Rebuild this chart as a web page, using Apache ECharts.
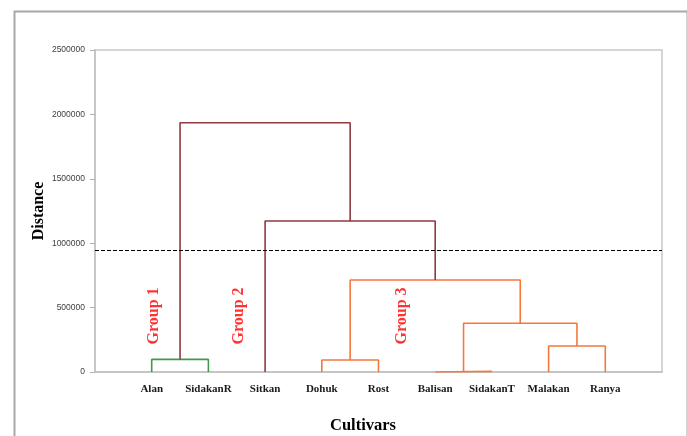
<!DOCTYPE html>
<html>
<head>
<meta charset="utf-8">
<script src="https://cdn.jsdelivr.net/npm/echarts@6/dist/echarts.min.js"></script>
<style>html,body{margin:0;padding:0;background:#fff}#c{width:687px;height:436px}</style>
</head>
<body>
<div id="c"></div>
<script>
// Leaves (cultivars) in dendrogram order
var categories = ['Alan', 'SidakanR', 'Sitkan', 'Dohuk', 'Rost', 'Balisan', 'SidakanT', 'Malakan', 'Ranya'];
// Merges: left child, right child (leaf name or merge id "m#"), linkage distance, cluster group
var mergeLeft   = ['Balisan', 'Alan',     'Dohuk', 'Malakan', 'm0',     'm2',     'Sitkan',  'm1'];
var mergeRight  = ['SidakanT', 'SidakanR', 'Rost', 'Ranya',   'm3',     'm4',     'm5',      'm6'];
var mergeHeight = [5000,       98000,      93000,  202000,    378000,   714000,   1172000,   1935000];
var mergeGroup  = ['g3',       'g1',       'g3',   'g3',      'g3',     'g3',     'top',     'top'];
// Y-axis ticks
var yTicks = [0, 500000, 1000000, 1500000, 2000000, 2500000];
// Cut-off line
var cutOff = 945000;
// Group annotations
var groupNames = ['Group 1', 'Group 2', 'Group 3'];
var groupX = [1.03, 2.53, 5.41];
var groupY = [435000, 435000, 435000];

var groupColor = { g1: '#3f9a4a', g3: '#f5783a', top: '#8e3a3f' };

// Build node positions from the merge table
var nodeX = {}, nodeH = {};
categories.forEach(function (c, i) { nodeX[c] = i + 1; nodeH[c] = 0; });
var series = [];
mergeLeft.forEach(function (l, i) {
  var r = mergeRight[i], h = mergeHeight[i], id = 'm' + i;
  nodeX[id] = (nodeX[l] + nodeX[r]) / 2;
  nodeH[id] = h;
  series.push({
    type: 'line', silent: true, symbol: 'none', animation: false,
    lineStyle: { color: groupColor[mergeGroup[i]], width: 1.6 },
    data: [[nodeX[l], nodeH[l]], [nodeX[l], h], [nodeX[r], h], [nodeX[r], nodeH[r]]],
    z: 3
  });
});
series.push({
  type: 'scatter', silent: true, symbolSize: 0, animation: false,
  data: groupNames.map(function (n, i) { return { value: [groupX[i], groupY[i]], name: n }; }),
  label: {
    show: true, position: 'inside', rotate: 90, formatter: '{b}',
    color: '#ff0000', fontFamily: 'Liberation Serif', fontWeight: 'bold', fontSize: 16
  },
  markLine: {
    silent: true, symbol: 'none', animation: false,
    label: { show: false },
    lineStyle: { color: '#000', type: [4, 2], width: 1.2 },
    data: [{ yAxis: cutOff }]
  }
});

var chart = echarts.init(document.getElementById('c'), null, { renderer: 'canvas' });
chart.setOption({
  backgroundColor: '#fff',
  animation: false,
  grid: { left: 95, right: 25, top: 50, bottom: 64, show: true, borderColor: '#c8c8c8', borderWidth: 1.5 },
  xAxis: {
    type: 'value', min: 0, max: categories.length + 1, interval: 1,
    axisLine: { show: true, lineStyle: { color: '#c0c0c0', width: 1.5 } },
    axisTick: { show: false }, splitLine: { show: false },
    axisLabel: {
      margin: 12, color: '#1a1a1a', fontFamily: 'Liberation Serif', fontWeight: 'bold', fontSize: 11,
      formatter: function (v) { return categories[v - 1] || ''; }
    }
  },
  yAxis: {
    type: 'value', min: yTicks[0], max: yTicks[yTicks.length - 1], interval: yTicks[1] - yTicks[0],
    axisLine: { show: true, lineStyle: { color: '#c0c0c0', width: 1.5 } },
    axisTick: { show: true, length: 5, lineStyle: { color: '#b0b0b0' } },
    splitLine: { show: false },
    axisLabel: { margin: 10, color: '#404040', fontFamily: 'Liberation Sans', fontSize: 8.5,
      formatter: function (v) { return String(v); } }
  },
  graphic: [
    { type: 'rect', left: 12, top: 9, silent: true,
      shape: { width: 673, height: 440 },
      style: { fill: 'none', stroke: '#a8a8a8', lineWidth: 2 } },
    { type: 'text', x: 39, y: 211, rotation: Math.PI / 2, silent: true,
      style: { text: 'Distance', fill: '#000', font: 'bold 16px "Liberation Serif"',
        textAlign: 'center', textVerticalAlign: 'middle' } },
    { type: 'text', left: 330, top: 417, silent: true,
      style: { text: 'Cultivars', fill: '#000', font: 'bold 16.5px "Liberation Serif"' } }
  ],
  series: series
});
</script>
</body>
</html>
